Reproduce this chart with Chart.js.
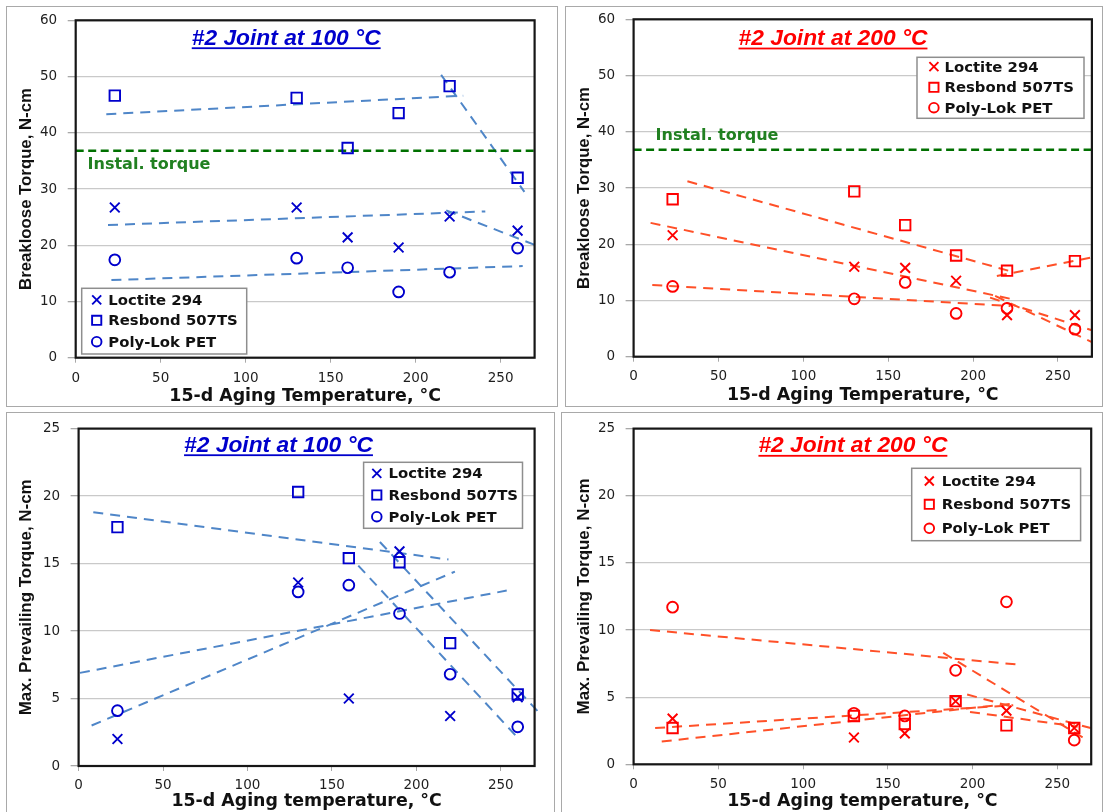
<!DOCTYPE html>
<html>
<head>
<meta charset="utf-8">
<script src="https://cdn.jsdelivr.net/npm/chart.js@4.4.1/dist/chart.umd.min.js"></script>
<style>
  html, body { margin: 0; padding: 0; background: #ffffff; }
  body { width: 1107px; height: 812px; overflow: hidden; position: relative; }
  .frame { position: absolute; border: 1.5px solid #a9a9a9; box-sizing: border-box; }
  canvas { position: absolute; }
</style>
</head>
<body>
<div class="frame" style="left:6px;top:6px;width:552px;height:401px"></div>
<div class="frame" style="left:565px;top:6px;width:538px;height:401px"></div>
<div class="frame" style="left:6px;top:412px;width:549px;height:410px"></div>
<div class="frame" style="left:561px;top:412px;width:542px;height:410px"></div>
<canvas id="c1" width="556" height="410" style="left:0px;top:0px"></canvas>
<canvas id="c2" width="551" height="410" style="left:556px;top:0px"></canvas>
<canvas id="c3" width="556" height="402" style="left:0px;top:410px"></canvas>
<canvas id="c4" width="551" height="402" style="left:556px;top:410px"></canvas>
<script>
// ---------------- data ----------------
const temps = [23, 130, 160, 190, 220, 260];
const seriesNames = ['Loctite 294', 'Resbond 507TS', 'Poly-Lok PET'];
const xTickValues = [0, 50, 100, 150, 200, 250];
const yTicksBreakloose = [0, 10, 20, 30, 40, 50, 60];
const yTicksPrevailing = [0, 5, 10, 15, 20, 25];
const installTorque = 36.8;

// Breakloose torque, #2 joint at 100 °C
const bl100Loctite = [26.7, 26.7, 21.4, 19.6, 25.1, 22.6];
const bl100Resbond = [46.6, 46.2, 37.3, 43.5, 48.3, 32.0];
const bl100PolyLok = [17.4, 17.7, 16.0, 11.7, 15.2, 19.5];
// Breakloose torque, #2 joint at 200 °C
const bl200Loctite = [21.6, 16.0, 15.8, 13.5, 7.4, 7.4];
const bl200Resbond = [28.0, 29.4, 23.4, 18.0, 15.3, 17.0];
const bl200PolyLok = [12.5, 10.3, 13.2, 7.7, 8.6, 4.9];
// Max. prevailing torque, #2 joint at 100 °C
const pt100Loctite = [2.0, 13.6, 5.0, 15.9, 3.7, 5.1];
const pt100Resbond = [17.7, 20.3, 15.4, 15.1, 9.1, 5.3];
const pt100PolyLok = [4.1, 12.9, 13.4, 11.3, 6.8, 2.9];
// Max. prevailing torque, #2 joint at 200 °C
const pt200Loctite = [3.4, 2.0, 2.3, 4.7, 4.0, 2.7];
const pt200Resbond = [2.7, 3.6, 3.0, 4.7, 2.9, 2.7];
const pt200PolyLok = [11.7, 3.8, 3.6, 7.0, 12.1, 1.8];

// dashed trend-line segments: [[x0, y0], [x1, y1]]
const bl100Trends = [
  [[18, 43.3], [228, 46.6]],
  [[215, 50.3], [264, 29.5]],
  [[19, 23.6], [241, 26.0]],
  [[218, 26.2], [270.5, 20.0]],
  [[21, 13.8], [263, 16.3]]
];
const bl200Trends = [
  [[31.7, 31.2], [222, 15.2]],
  [[214, 14.35], [269, 17.6]],
  [[10, 23.8], [222, 10.3]],
  [[210, 10.5], [270, 4.7]],
  [[11, 12.75], [222, 9.0]],
  [[213, 10.8], [270, 2.6]]
];
const pt100Trends = [
  [[8.7, 18.8], [219, 15.3]],
  [[178.4, 16.6], [273, 3.9]],
  [[165.6, 14.85], [261.3, 1.92]],
  [[7.7, 3.0], [222.8, 14.4]],
  [[0.8, 6.9], [253.5, 13.0]]
];
const pt200Trends = [
  [[9.7, 10.0], [229, 7.4]],
  [[182.7, 8.3], [266.3, 1.9]],
  [[196.8, 5.2], [269.7, 2.7]],
  [[12.7, 2.7], [224, 4.4]],
  [[16.6, 1.7], [222, 4.5]],
  [[198.5, 3.9], [262, 2.8]]
];

// ---------------- styling helpers ----------------
const SANS = 'DejaVu Sans';
const ARIAL = 'Liberation Sans';
const measureCtx = document.createElement('canvas').getContext('2d');
function fitSize(text, family, weight, style, target) {
  measureCtx.font = style + ' ' + weight + ' 100px "' + family + '"';
  return 100 * target / measureCtx.measureText(text).width;
}
const xTitleSize = fitSize('15-d Aging Temperature, °C', SANS, 'bold', 'normal', 272);
const yTitleSizeBL = fitSize('Breakloose Torque, N-cm', ARIAL, 'bold', 'normal', 202);
const yTitleSizePT = fitSize('Max. Prevailing Torque, N-cm', ARIAL, 'bold', 'normal', 236);
const titleSize = fitSize('#2 Joint at 100 °C', ARIAL, 'bold', 'italic', 189);
const legendSize = fitSize('Resbond 507TS', SANS, 'bold', 'normal', 129.5);
const labelSize = fitSize('Instal. torque', SANS, 'bold', 'normal', 123);

const pointStyles = ['crossRot', 'rect', 'circle'];
const pointRadii = [6.9, 7.4, 5.4];

function drawMarker(ctx, style, x, y, s, color) {
  ctx.save();
  ctx.strokeStyle = color;
  ctx.lineWidth = 1.9;
  ctx.beginPath();
  if (style === 'crossRot') {
    ctx.moveTo(x - s, y - s); ctx.lineTo(x + s, y + s);
    ctx.moveTo(x + s, y - s); ctx.lineTo(x - s, y + s);
  } else if (style === 'rect') {
    ctx.rect(x - s, y - s, 2 * s, 2 * s);
  } else {
    ctx.arc(x, y, s, 0, Math.PI * 2);
  }
  ctx.stroke();
  ctx.restore();
}

const decorPlugin = {
  id: 'decor',
  afterDraw(chart, args, o) {
    const ctx = chart.ctx;
    const a = chart.chartArea;
    ctx.save();
    // plot-area frame
    ctx.strokeStyle = '#161616';
    ctx.lineWidth = 2.2;
    ctx.strokeRect(a.left, a.top, a.right - a.left, a.bottom - a.top);
    // "Instal. torque" label
    if (o.label) {
      ctx.font = 'bold ' + labelSize + 'px "' + SANS + '"';
      ctx.fillStyle = '#218021';
      ctx.textAlign = 'left';
      ctx.textBaseline = 'alphabetic';
      ctx.fillText(o.label.text, o.label.x - o.ox, o.label.base - o.oy);
    }
    // panel title, underlined
    ctx.font = 'italic bold ' + titleSize + 'px "' + ARIAL + '"';
    ctx.fillStyle = o.color;
    ctx.textAlign = 'center';
    ctx.textBaseline = 'alphabetic';
    const tx = o.title.cx - o.ox, ty = o.title.base - o.oy;
    ctx.fillText(o.title.text, tx, ty);
    const tw = ctx.measureText(o.title.text).width;
    ctx.fillRect(tx - tw / 2, ty + 2.6, tw, 1.8);
    // legend box
    const b = o.legend.box;
    ctx.fillStyle = '#ffffff';
    ctx.fillRect(b[0] - o.ox, b[1] - o.oy, b[2] - b[0], b[3] - b[1]);
    ctx.strokeStyle = '#8e8e8e';
    ctx.lineWidth = 1.5;
    ctx.strokeRect(b[0] - o.ox, b[1] - o.oy, b[2] - b[0], b[3] - b[1]);
    ctx.font = 'bold ' + legendSize + 'px "' + SANS + '"';
    ctx.textAlign = 'left';
    ctx.textBaseline = 'middle';
    const legSizes = [4.5, 4.6, 4.8];
    seriesNames.forEach((name, i) => {
      const ry = o.legend.rows[i] - o.oy;
      drawMarker(ctx, pointStyles[i], o.legend.mx - o.ox, ry, legSizes[i], o.markerColor);
      ctx.fillStyle = '#111111';
      ctx.fillText(name, o.legend.tx - o.ox, ry + 1);
    });
    ctx.restore();
  }
};

function makeChart(id, p) {
  const canvas = document.getElementById(id);
  const W = canvas.width, H = canvas.height;
  const L = p.area.l - p.ox, R = p.area.r - p.ox, T = p.area.t - p.oy, B = p.area.b - p.oy;
  const datasets = [];
  p.markers.forEach((vals, i) => {
    datasets.push({
      label: seriesNames[i],
      data: temps.map((t, k) => ({ x: t, y: vals[k] })),
      showLine: false,
      pointStyle: pointStyles[i],
      pointRadius: pointRadii[i],
      pointHoverRadius: pointRadii[i],
      pointBorderWidth: 1.9,
      pointBorderColor: p.markerColor,
      pointBackgroundColor: 'rgba(0,0,0,0)'
    });
  });
  if (p.instal !== undefined) {
    datasets.push({
      label: 'Instal. torque',
      data: [{ x: 0, y: p.instal }, { x: 270, y: p.instal }],
      showLine: true,
      borderColor: '#007000',
      borderWidth: 2.6,
      borderDash: [8, 4.5],
      pointRadius: 0
    });
  }
  p.trends.forEach(seg => {
    datasets.push({
      label: 'trend',
      data: seg.map(pt => ({ x: pt[0], y: pt[1] })),
      showLine: true,
      borderColor: p.trendColor,
      borderWidth: 2,
      borderDash: [10, 7],
      pointRadius: 0,
      clip: 8
    });
  });
  const tickFont = { family: SANS, size: 13.5 };
  const xLh = xTitleSize * 1.2;
  const yLh = p.yTitleSize * 1.2;
  return new Chart(canvas, {
    type: 'scatter',
    data: { datasets },
    plugins: [decorPlugin],
    options: {
      responsive: false,
      animation: false,
      devicePixelRatio: 1,
      events: [],
      layout: { padding: { left: 0, top: T, right: W - R, bottom: 0 } },
      plugins: {
        legend: { display: false },
        tooltip: { enabled: false },
        decor: {
          ox: p.ox, oy: p.oy, color: p.titleColor, markerColor: p.markerColor,
          title: p.title, legend: p.legend, label: p.label
        }
      },
      scales: {
        x: {
          type: 'linear', min: 0, max: 270,
          afterBuildTicks: s => { s.ticks = xTickValues.map(v => ({ value: v })); },
          afterFit: s => { s.height = H - B; },
          ticks: { font: tickFont, color: '#1e1e1e', padding: p.xTickPad, maxRotation: 0, autoSkip: false },
          grid: { drawOnChartArea: false, drawTicks: true, tickLength: 5, color: '#a8a8a8', lineWidth: 1 },
          border: { display: false },
          title: {
            display: true, text: p.xTitle, color: '#111111',
            font: { family: SANS, size: xTitleSize, weight: 'bold' },
            padding: { top: 0, bottom: Math.max(0, p.xTitleDist - xLh / 2) }
          }
        },
        y: {
          type: 'linear', min: 0, max: p.yMax,
          afterBuildTicks: s => { s.ticks = p.yTicks.map(v => ({ value: v })); },
          afterFit: s => { s.width = L; },
          ticks: { font: tickFont, color: '#1e1e1e', padding: 10.5 },
          grid: { color: '#c9c9c9', lineWidth: 1.3, tickLength: 8, tickColor: '#a8a8a8', tickWidth: 1.3 },
          border: { display: false },
          title: {
            display: true, text: p.yTitle, color: '#111111',
            font: { family: ARIAL, size: p.yTitleSize, weight: 'bold' },
            padding: { top: Math.max(0, p.yTitleX - yLh / 2), bottom: 0 }
          }
        }
      }
    }
  });
}

const BLUE = '#0000CC', RED = '#FF0000';
const BLUE_TREND = '#4F86C8', RED_TREND = '#FF5028';

makeChart('c1', {
  ox: 0, oy: 0,
  area: { l: 75.7, r: 534.6, t: 20.3, b: 357.7 },
  yMax: 60, yTicks: yTicksBreakloose,
  yTitle: 'Breakloose Torque, N-cm', yTitleSize: yTitleSizeBL, yTitleX: 26.8,
  xTitle: '15-d Aging Temperature, °C', xTitleDist: 410 - 396.3,
  xTickPad: 7.5,
  markers: [bl100Loctite, bl100Resbond, bl100PolyLok],
  markerColor: BLUE, trendColor: BLUE_TREND, trends: bl100Trends,
  instal: installTorque,
  titleColor: BLUE,
  title: { text: '#2 Joint at 100 °C', cx: 286.2, base: 44.7 },
  legend: { box: [81.7, 288.3, 246.7, 354], rows: [299.8, 320.3, 341.7], mx: 96.7, tx: 108.3 },
  label: { text: 'Instal. torque', x: 87.5, base: 168.5 }
});

makeChart('c2', {
  ox: 556, oy: 0,
  area: { l: 633.6, r: 1091.9, t: 19.3, b: 356.7 },
  yMax: 60, yTicks: yTicksBreakloose,
  yTitle: 'Breakloose Torque, N-cm', yTitleSize: yTitleSizeBL, yTitleX: 28.3,
  xTitle: '15-d Aging Temperature, °C', xTitleDist: 410 - 395,
  xTickPad: 6.9,
  markers: [bl200Loctite, bl200Resbond, bl200PolyLok],
  markerColor: RED, trendColor: RED_TREND, trends: bl200Trends,
  instal: installTorque,
  titleColor: RED,
  title: { text: '#2 Joint at 200 °C', cx: 833, base: 45 },
  legend: { box: [917, 57.3, 1084, 118.3], rows: [66.7, 87.3, 107.7], mx: 933.9, tx: 944.5 },
  label: { text: 'Instal. torque', x: 655.5, base: 139.5 }
});

makeChart('c3', {
  ox: 0, oy: 410,
  area: { l: 78.6, r: 534.6, t: 427.7, b: 766 },
  yMax: 25, yTicks: yTicksPrevailing,
  yTitle: 'Max. Prevailing Torque, N-cm', yTitleSize: yTitleSizePT, yTitleX: 26.8,
  xTitle: '15-d Aging temperature, °C', xTitleDist: 812 - 801.5,
  xTickPad: 5.9,
  markers: [pt100Loctite, pt100Resbond, pt100PolyLok],
  markerColor: BLUE, trendColor: BLUE_TREND, trends: pt100Trends,
  titleColor: BLUE,
  title: { text: '#2 Joint at 100 °C', cx: 278.5, base: 451.7 },
  legend: { box: [363.6, 462.3, 522.5, 528.3], rows: [473.3, 495, 516.7], mx: 376.8, tx: 388.6 }
});

makeChart('c4', {
  ox: 556, oy: 410,
  area: { l: 633.6, r: 1091.2, t: 425.7, b: 764.3 },
  yMax: 25, yTicks: yTicksPrevailing,
  yTitle: 'Max. Prevailing Torque, N-cm', yTitleSize: yTitleSizePT, yTitleX: 28.3,
  xTitle: '15-d Aging temperature, °C', xTitleDist: 812 - 801.5,
  xTickPad: 6.6,
  markers: [pt200Loctite, pt200Resbond, pt200PolyLok],
  markerColor: RED, trendColor: RED_TREND, trends: pt200Trends,
  titleColor: RED,
  title: { text: '#2 Joint at 200 °C', cx: 852.9, base: 452.3 },
  legend: { box: [911.7, 468.3, 1080.6, 540.7], rows: [481, 504.3, 528.3], mx: 929.3, tx: 941.7 }
});
</script>
</body>
</html>
